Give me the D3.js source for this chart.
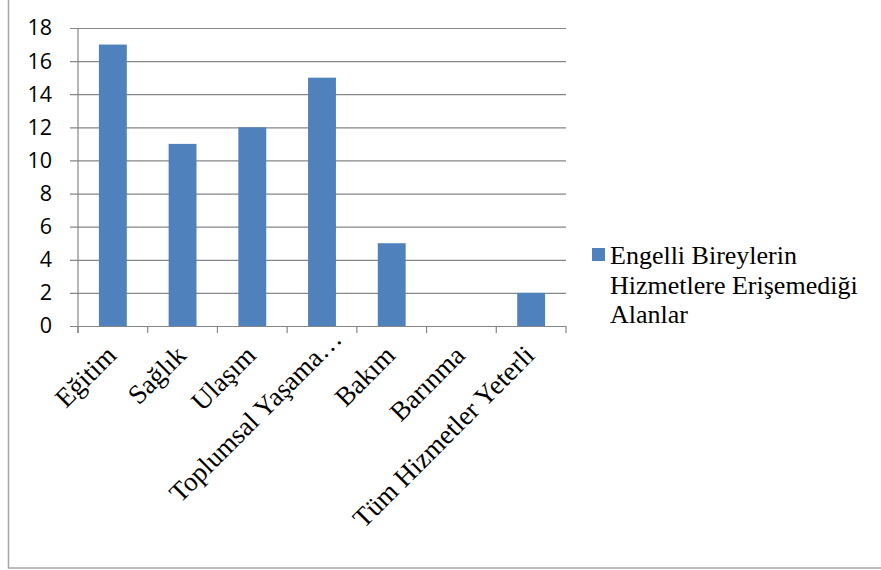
<!DOCTYPE html>
<html>
<head>
<meta charset="utf-8">
<script src="https://cdn.jsdelivr.net/npm/d3@7"></script>
<style>
  html, body { margin: 0; padding: 0; background: #fff; }
  svg { display: block; }
  text.serif { font-family: "Liberation Serif", "Times New Roman", serif; }
</style>
</head>
<body>
<svg id="chart" width="881" height="570"></svg>
<script>
// Areas where people with disabilities cannot access services
const categories = ["Eğitim", "Sağlık", "Ulaşım", "Toplumsal Yaşama…", "Bakım", "Barınma", "Tüm Hizmetler Yeterli"];
const values = [17, 11, 12, 15, 5, 0, 2];
const yTicks = [0, 2, 4, 6, 8, 10, 12, 14, 16, 18];
const seriesName = ["Engelli Bireylerin", "Hizmetlere Erişemediği", "Alanlar"];

const svg = d3.select("#chart");
const W = 881, H = 570;
const plot = { left: 78, right: 566, top: 28, bottom: 326 };
const barColor = "#4F81BD";
const gridColor = "#868686";
const sans = "'Open Sans', 'Liberation Sans', sans-serif";

// outer chart frame
svg.append("rect")
  .attr("x", 8.5).attr("y", -10)
  .attr("width", W + 20).attr("height", 578)
  .attr("fill", "none").attr("stroke", "#a6a6a6").attr("stroke-width", 1.5);

const x = d3.scaleBand()
  .domain(categories)
  .range([plot.left, plot.right])
  .paddingInner(0.6)
  .paddingOuter(0.3);

const y = d3.scaleLinear()
  .domain([0, 18])
  .range([plot.bottom, plot.top]);

// horizontal gridlines + y axis ticks/labels
const yAxis = d3.axisLeft(y)
  .tickValues(yTicks)
  .tickSize(8)
  .tickPadding(18)
  .tickFormat(d3.format("d"));

const gy = svg.append("g")
  .attr("transform", `translate(${plot.left},0)`)
  .call(yAxis)
  .attr("font-family", sans)
  .attr("font-size", 21.5);
gy.select(".domain").remove();
gy.selectAll(".tick line")
  .attr("x2", plot.right - plot.left)
  .attr("x1", -8)
  .attr("stroke", gridColor)
  .attr("stroke-width", 1.2);
gy.selectAll(".tick text").attr("fill", "#000");

// bars
svg.append("g")
  .selectAll("rect")
  .data(values)
  .join("rect")
  .attr("x", (d, i) => x(categories[i]))
  .attr("y", d => y(d))
  .attr("width", x.bandwidth())
  .attr("height", d => y(0) - y(d))
  .attr("fill", barColor);

// vertical axis line
svg.append("line")
  .attr("x1", plot.left).attr("x2", plot.left)
  .attr("y1", plot.top).attr("y2", plot.bottom + 7)
  .attr("stroke", gridColor).attr("stroke-width", 1.2);

// category boundary ticks
const offset = x.step() * x.paddingOuter();
const bounds = categories.map(c => x(c) - offset).concat([plot.right]);
svg.append("g")
  .selectAll("line")
  .data(bounds)
  .join("line")
  .attr("x1", d => d).attr("x2", d => d)
  .attr("y1", plot.bottom).attr("y2", plot.bottom + 7)
  .attr("stroke", gridColor).attr("stroke-width", 1.2);

// rotated category labels
svg.append("g")
  .selectAll("text")
  .data(categories)
  .join("text")
  .attr("class", "serif")
  .style("font-size", "27px")
  .attr("text-anchor", "end")
  .attr("transform", d => {
    const cx = x(d) + x.bandwidth() / 2 + 5;
    return `translate(${cx},357) rotate(-45)`;
  })
  .attr("dx", d => d.endsWith("…") ? 23 : 0)
  .text(d => d);

// legend
const lg = svg.append("g");
lg.append("rect")
  .attr("x", 592).attr("y", 248)
  .attr("width", 13).attr("height", 13)
  .attr("fill", barColor);
lg.selectAll("text")
  .data(seriesName)
  .join("text")
  .attr("class", "serif")
  .style("font-size", "26px")
  .attr("x", 610)
  .attr("y", (d, i) => 264 + i * 29.5)
  .text(d => d);
</script>
</body>
</html>
